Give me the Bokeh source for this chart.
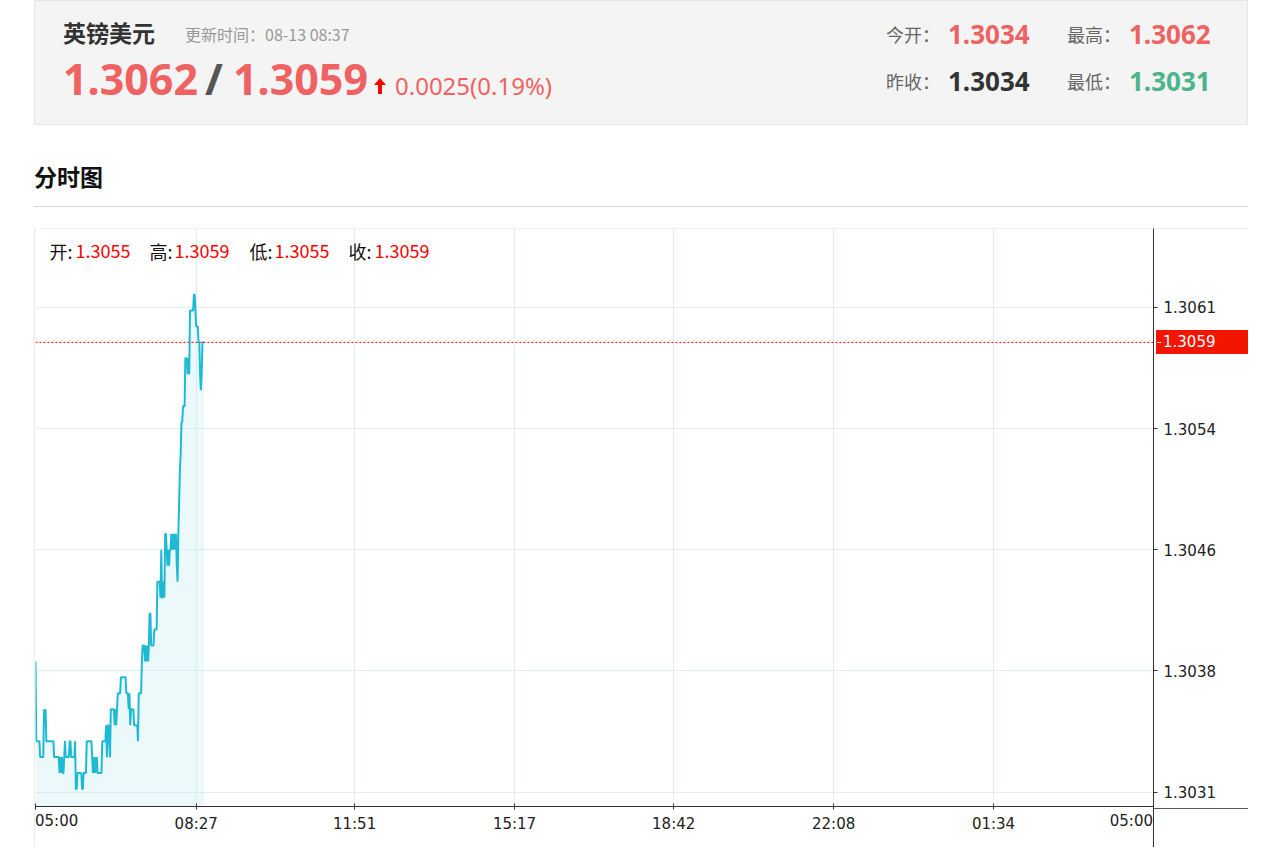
from bokeh.plotting import figure
from bokeh.models import Range1d, FixedTicker, Span, Label, Div
from bokeh.layouts import column
from bokeh.embed import file_html
from bokeh.resources import INLINE

# ---------------- data ----------------
pair_name = "英镑美元"
update_label = "更新时间："
update_time = "08-13 08:37"
ask_price = "1.3062"
bid_price = "1.3059"
change_text = "0.0025(0.19%)"
quote_labels = ["今开：", "最高：", "昨收：", "最低："]
quote_values = ["1.3034", "1.3062", "1.3034", "1.3031"]
section_title = "分时图"
bar_labels = ["开:", "高:", "低:", "收:"]
bar_values = ["1.3055", "1.3059", "1.3055", "1.3059"]

x_tick_labels = ["05:00", "08:27", "11:51", "15:17", "18:42", "22:08", "01:34", "05:00"]
y_tick_labels = ["1.3031", "1.3038", "1.3046", "1.3054", "1.3061"]
y_tick_values = [1.30308, 1.30384, 1.30460, 1.30536, 1.30612]
y_lo, y_hi = 1.3029904, 1.3066138
session_minutes = 1440

# one price per minute from 05:00 to 08:37
prices = [
    1.3039,
    1.3034, 1.3034, 1.3034, 1.3034, 1.3034,
    1.3033, 1.3033, 1.3033, 1.3033, 1.3033,
    1.3036, 1.3035, 1.3036,
    1.3034, 1.3034, 1.3034, 1.3034, 1.3034, 1.3034, 1.3034, 1.3034, 1.3034, 1.3034,
    1.3033, 1.3033, 1.3033, 1.3033, 1.3033, 1.3033, 1.3033,
    1.3032, 1.3033, 1.3032, 1.3033, 1.3032, 1.3032, 1.3033,
    1.3034,
    1.3033, 1.3033, 1.3033, 1.3033, 1.3033,
    1.3034, 1.3034,
    1.3033, 1.3033, 1.3033, 1.3033, 1.3033,
    1.3034,
    1.3031, 1.3031,
    1.3032, 1.3032, 1.3032, 1.3032, 1.3032, 1.3032,
    1.3031, 1.3031,
    1.3032, 1.3032, 1.3032, 1.3032,
    1.3034, 1.3034, 1.3034, 1.3034, 1.3034, 1.3034, 1.3034,
    1.3033, 1.3032, 1.3033, 1.3032, 1.3033, 1.3032, 1.3033,
    1.3032, 1.3032, 1.3032, 1.3032, 1.3032, 1.3032,
    1.3034, 1.3034, 1.3034, 1.3034, 1.3034,
    1.3035, 1.3033, 1.3035, 1.3035, 1.3034,
    1.3033,
    1.3036, 1.3036, 1.3036, 1.3036, 1.3036,
    1.3035, 1.3036, 1.3035, 1.3036,
    1.3037, 1.3037, 1.3037, 1.3037,
    1.3038, 1.3038, 1.3038, 1.3038, 1.3038, 1.3038, 1.3038,
    1.3037, 1.3037, 1.3037,
    1.3036, 1.3037, 1.3035,
    1.3036, 1.3036, 1.3036, 1.3036,
    1.3035, 1.3035, 1.3035, 1.3035, 1.3035,
    1.3034,
    1.3037, 1.3037, 1.3037, 1.3037,
    1.3039,
    1.3040, 1.3040, 1.3040, 1.3039, 1.3040, 1.3039, 1.3040, 1.3039, 1.3040,
    1.3042, 1.3042,
    1.3040, 1.3040, 1.3040, 1.3040,
    1.3041, 1.3041, 1.3041, 1.3041,
    1.3044, 1.3044, 1.3044, 1.3044,
    1.3043, 1.3046, 1.3043,
    1.3043, 1.3044, 1.3043,
    1.3047, 1.3047, 1.3046,
    1.3045, 1.3046, 1.3045, 1.3046, 1.3046,
    1.3047, 1.3046, 1.3047, 1.3046, 1.3047, 1.3046,
    1.3047, 1.3045,
    1.3044,
    1.3047, 1.3049, 1.3051, 1.3052,
    1.3054, 1.3054, 1.3055, 1.3055, 1.3055,
    1.3058, 1.3058, 1.3058,
    1.3057, 1.3058, 1.3057,
    1.3061, 1.3061, 1.3061, 1.3061, 1.3061,
    1.3062, 1.3062,
    1.3061,
    1.3060, 1.3060, 1.3060,
    1.3059, 1.3059,
    1.3057, 1.3056, 1.3057,
    1.3059, 1.3059, 1.3059,
]
minutes = list(range(len(prices)))


def minutes_from_start(label):
    h, m = label.split(":")
    t = int(h) * 60 + int(m) - 300
    return t if t > 0 else t + session_minutes


x_ticks = [0] + [minutes_from_start(s) for s in x_tick_labels[1:]]

# ---------------- styles ----------------
RED = "#ef6262"
GREEN = "#4cb38a"
LINE = "#1dbad6"
GRID = "#e2ecf2"
AXIS_FONT = "DejaVu Sans"
AXIS_CSS = "'DejaVu Sans', sans-serif"
CJK = "'Noto Sans CJK SC', 'Noto Sans', sans-serif"
LAT = "'Noto Sans', 'Noto Sans CJK SC', sans-serif"

W, H = 1214, 619
FW, FH = 1118, 578
ppm = FW / session_minutes
ppp = FH / (y_hi - y_lo)


def sx(px):  # frame-relative px -> minutes
    return px / ppm


def sy(px):  # px below frame top -> price
    return y_hi - px / ppp


def span(txt, left, top, size, color, font=CJK, weight="normal", extra=""):
    return (f'<span style="position:absolute;left:{left}px;top:{top}px;font-size:{size}px;'
            f'line-height:1;white-space:nowrap;font-family:{font};font-weight:{weight};'
            f'color:{color};{extra}">{txt}</span>')


# ---------------- header ----------------
arrow_svg = ('<svg width="12" height="16" viewBox="0 0 12 16" style="position:absolute;left:339px;top:77px;">'
             '<polygon points="6,0 12,7 8,7 8,16 4,16 4,7 0,7" fill="#ff0000"/></svg>')

hdr_html = (
    '<div style="position:relative;width:1214px;height:125px;background:#f4f4f4;'
    'border:1px solid #e6e6e6;box-sizing:border-box;">'
    + span(pair_name, 28, 20, 23, "#333", weight="bold")
    + span(update_label + update_time, 150, 25, 16, "#999")
    + span(ask_price, 28, 56, 43, RED, font=LAT, weight="bold")
    + span("/", 170, 56, 43, "#555", font=LAT, weight="bold")
    + span(bid_price, 198, 56, 43, RED, font=LAT, weight="bold")
    + arrow_svg
    + span(change_text, 360, 73, 24, RED, font=LAT)
    + span(quote_labels[0], 851, 24, 18, "#666")
    + span(quote_values[0], 913, 20, 26, RED, font=LAT, weight="bold")
    + span(quote_labels[1], 1032, 24, 18, "#666")
    + span(quote_values[1], 1094, 20, 26, RED, font=LAT, weight="bold")
    + span(quote_labels[2], 851, 71, 18, "#666")
    + span(quote_values[2], 913, 67, 26, "#333", font=LAT, weight="bold")
    + span(quote_labels[3], 1032, 71, 18, "#666")
    + span(quote_values[3], 1094, 67, 26, GREEN, font=LAT, weight="bold")
    + '</div>'
)
header = Div(text=hdr_html, width=W, height=125, margin=(0, 0, 0, 0))

title_html = (
    '<div style="position:relative;width:1214px;height:103px;">'
    + span(section_title, 0, 40, 23, "#111", weight="bold")
    + '<div style="position:absolute;left:0;top:81px;width:1214px;height:1px;background:#d6d6d6;"></div>'
    + '</div>'
)
title = Div(text=title_html, width=W, height=103, margin=(0, 0, 0, 0))

# ---------------- chart ----------------
p = figure(width=W, height=H, x_range=Range1d(0, session_minutes), y_range=Range1d(y_lo, y_hi),
           y_axis_location="right", output_backend="svg", toolbar_location=None,
           min_border_left=1, min_border_right=95, min_border_top=0, min_border_bottom=41,
           background_fill_color="white", border_fill_color="white", outline_line_color=None,
           margin=(0, 0, 0, 0))
try:
    p.styles = {"outline": "1px solid #e6e6e6", "outline-offset": "-1px"}
except Exception:
    pass

p.varea(x=minutes, y1=y_lo, y2=prices, fill_color="#bfeaf3", fill_alpha=0.3)
p.line(minutes, prices, line_color=LINE, line_width=2)

xt = FixedTicker(ticks=x_ticks, minor_ticks=[])
yt = FixedTicker(ticks=y_tick_values, minor_ticks=[])
p.xaxis.ticker = xt
p.yaxis.ticker = yt
p.xgrid.ticker = xt
p.ygrid.ticker = yt
p.grid.grid_line_color = GRID
p.grid.grid_line_width = 1

xover = {t: lab for t, lab in zip(x_ticks, x_tick_labels)}
xover[x_ticks[0]] = ""
xover[x_ticks[-1]] = ""
p.xaxis.major_label_overrides = xover
p.yaxis.major_label_overrides = {v: lab for v, lab in zip(y_tick_values, y_tick_labels)}

for ax in (p.xaxis[0], p.yaxis[0]):
    ax.axis_line_color = "#333"
    ax.major_tick_line_color = "#333"
    ax.major_label_text_font = AXIS_FONT
    ax.major_label_text_font_size = "15px"
    ax.major_label_text_color = "#222"
    ax.minor_tick_line_color = None
p.yaxis.major_tick_in = 0
p.yaxis.major_tick_out = 4
p.yaxis.major_label_standoff = 6
p.xaxis.major_tick_in = 3
p.xaxis.major_tick_out = 3
p.xaxis.major_label_standoff = 5

# last price line
p.add_layout(Span(location=prices[-1], dimension="width", line_color="#ff0000",
                  line_dash="2 2", line_width=1))

# bar OHLC info
bx = [14, 40, 114, 139, 214, 239, 313, 339]
for i, (lab, val) in enumerate(zip(bar_labels, bar_values)):
    p.add_layout(Label(x=sx(bx[2 * i]), y=sy(22), text=lab, text_baseline="middle",
                       text_font="Noto Sans CJK SC", text_font_size="18px", text_color="#111"))
    p.add_layout(Label(x=sx(bx[2 * i + 1]), y=sy(22), text=val, text_baseline="middle",
                       text_font="Noto Sans CJK SC", text_font_size="18px", text_color="#ff0000"))

# ---------------- overlay on the chart's margins (end time labels, price tag) ----------------
tag_top = round(FH - (float(bid_price) - y_lo) * ppp) - 12
ov_html = (
    f'<div style="position:relative;width:{W}px;height:{H}px;pointer-events:none;">'
    + span(x_tick_labels[0], 1, 586, 15, "#222", font=AXIS_CSS)
    + f'<span style="position:absolute;right:{W - FW - 1}px;top:586px;font-size:15px;line-height:1;'
      f'white-space:nowrap;font-family:{AXIS_CSS};color:#222;">{x_tick_labels[-1]}</span>'
    + f'<div style="position:absolute;left:{FW + 1}px;top:{FH}px;width:1px;height:{H - FH}px;background:#333;"></div>'
    + f'<div style="position:absolute;left:{FW + 1}px;top:{FH + 2}px;width:{W - FW - 1}px;height:1px;background:#555;"></div>'
    + f'<div style="position:absolute;left:{FW + 4}px;top:{tag_top}px;width:{W - FW - 4}px;height:24px;background:#f21600;"></div>'
    + f'<div style="position:absolute;left:{FW + 5}px;top:{tag_top + 12}px;width:4px;height:1px;background:#fff;"></div>'
    + f'<span style="position:absolute;left:{FW + 11}px;top:{tag_top}px;font-size:15px;line-height:24px;'
      f'white-space:nowrap;font-family:{AXIS_CSS};color:#fff;">{bid_price}</span>'
    + '</div>'
)
overlay = Div(text=ov_html, width=W, height=H, margin=(-H, 0, 0, 0))

layout = column(header, title, p, overlay, spacing=0, margin=(0, 0, 0, 34))

open("out.html", "w").write(file_html(layout, INLINE))
